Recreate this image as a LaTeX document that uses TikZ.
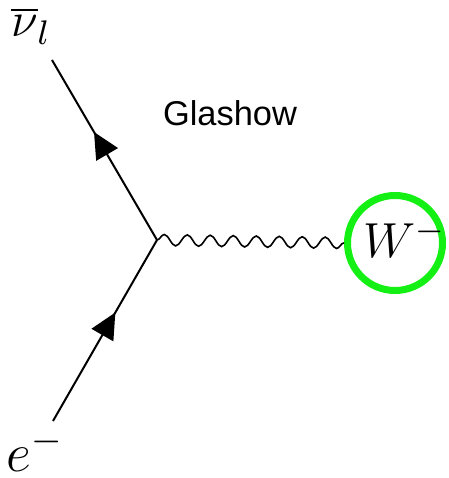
\RequirePackage{fix-cm}
\documentclass[tikz,border=0pt]{standalone}
\usepackage{fontspec}
\newfontfamily\glfont{Liberation Sans}
\usepackage{tikz}
\usetikzlibrary{arrows.meta, decorations.pathmorphing, decorations.markings}
\definecolor{wgreen}{RGB}{20,240,20}
\tikzset{
  fermion/.style={
    line width=0.5pt,
    postaction={decorate},
    decoration={markings,
      mark=at position 0.60 with {\arrow{Triangle[length=6.5pt,width=6.2pt]}}}
  },
  boson/.style={
    line width=0.4pt,
    decorate,
    decoration={snake, segment length=5.75pt, amplitude=1.4pt}
  },
  blob/.style={
    circle, draw=wgreen, line width=1.75pt,
    minimum size=23.75pt, inner sep=0pt, fill=white
  },
  lbl/.style={inner sep=0pt},
}

\begin{document}
\begin{tikzpicture}[x=0.25pt, y=-0.25pt]
  \useasboundingbox (0,0) rectangle (448,478);

  % vertex and outer ends
  \coordinate (vtx)   at (157,240);
  \coordinate (nuend) at (52,60);
  \coordinate (eend)  at (53,421);

  % W boson blob
  \node[blob] (wbos) at (395,243) {};
  \node[lbl, anchor=base west] (wlbl) at (363,258) {\fontsize{12.3}{15}\selectfont$W^-$};

  % labels
  \node[lbl] (nulbl) at (31,26)  {\fontsize{12.2}{15}\selectfont$\overline{\nu}_l$};
  \node[lbl, anchor=base west] (elbl) at (6,471) {\fontsize{13.6}{16}\selectfont$e^-$};
  \node[lbl, font=\glfont\fontsize{8.6}{10}\selectfont] (name) at (230,113) {Glashow};

  % lines
  \draw[fermion] (eend) -- (vtx);
  \draw[fermion] (vtx)  -- (nuend);
  \draw[boson]   (vtx)  -- (wbos.west);

\end{tikzpicture}
\end{document}
